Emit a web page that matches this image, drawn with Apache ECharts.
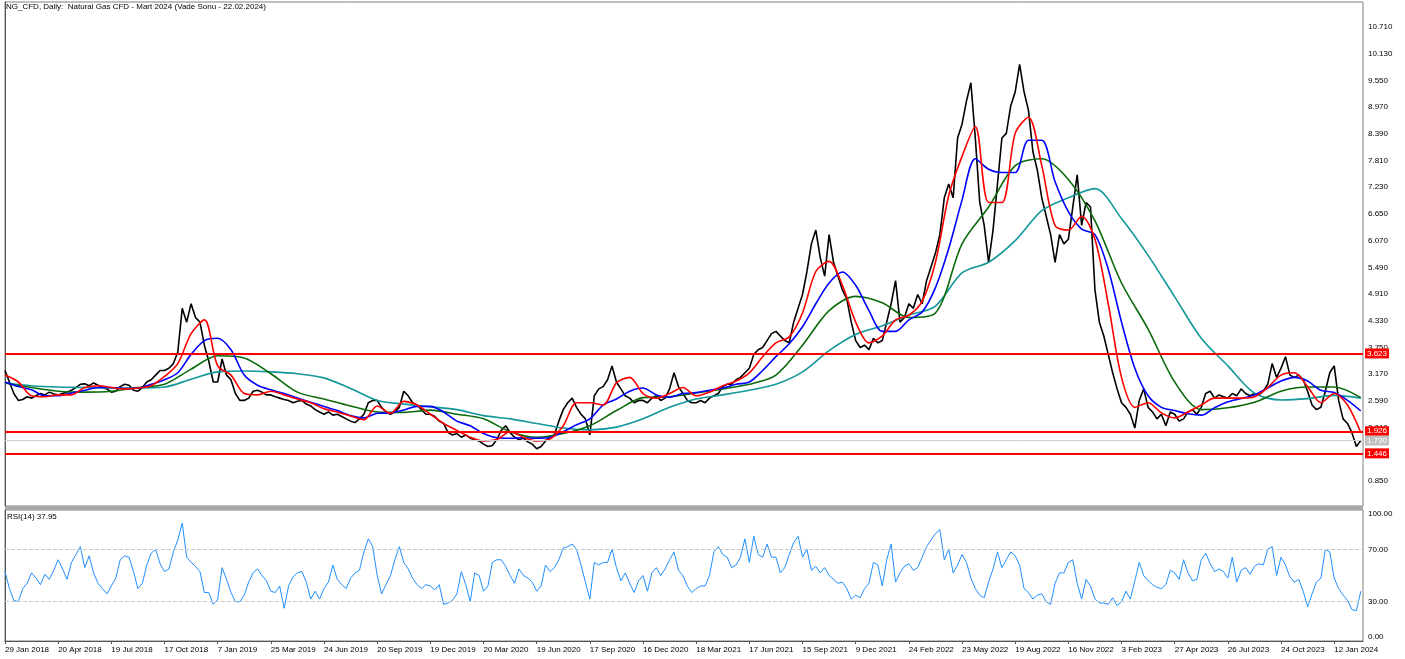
<!DOCTYPE html>
<html>
<head>
<meta charset="utf-8">
<title>NG_CFD Daily</title>
<script src="https://cdn.jsdelivr.net/npm/echarts@6/dist/echarts.min.js"></script>
<style>
  html, body { margin: 0; padding: 0; background: #fff; }
  #chart { width: 1405px; height: 659px; }
</style>
</head>
<body>
<div id="chart"></div>
<script>
// one sample ~ one week, a date label every 12 samples
const tickStep = 12;
const tickLabels = ["29 Jan 2018", "20 Apr 2018", "19 Jul 2018", "17 Oct 2018", "7 Jan 2019", "25 Mar 2019",
  "24 Jun 2019", "20 Sep 2019", "19 Dec 2019", "20 Mar 2020", "19 Jun 2020", "17 Sep 2020", "16 Dec 2020",
  "18 Mar 2021", "17 Jun 2021", "15 Sep 2021", "9 Dec 2021", "24 Feb 2022", "23 May 2022", "19 Aug 2022",
  "16 Nov 2022", "3 Feb 2023", "27 Apr 2023", "26 Jul 2023", "24 Oct 2023", "12 Jan 2024"];
const priceTicks = [0.85, 1.43, 2.01, 2.59, 3.17, 3.75, 4.33, 4.91, 5.49, 6.07, 6.65, 7.23, 7.81, 8.39, 8.97, 9.55, 10.13, 10.71];
const rsiTicks = [0, 30, 70, 100];
const redLevels = [3.623, 1.926, 1.446];
const lastPrice = 1.730;
const rsiLast = 37.95;

const close = [
  3.25, 3.0, 2.75, 2.6, 2.62, 2.68, 2.65, 2.7, 2.75, 2.72, 2.78, 2.74,
  2.72, 2.75, 2.78, 2.82, 2.88, 2.95, 2.96, 2.92, 2.98, 2.93, 2.88, 2.85,
  2.78, 2.8, 2.9, 2.95, 2.93, 2.82, 2.8, 2.88, 3.0, 3.05, 3.15, 3.25,
  3.25, 3.3, 3.4, 3.65, 4.6, 4.3, 4.7, 4.4, 4.3, 3.8, 3.45, 3.0,
  3.0, 3.5, 3.15, 3.05, 2.75, 2.6, 2.6, 2.65, 2.8, 2.82, 2.78, 2.72,
  2.72, 2.68, 2.65, 2.62, 2.6, 2.55, 2.58, 2.6, 2.52, 2.48, 2.4, 2.35,
  2.3, 2.35, 2.28, 2.3, 2.25, 2.2, 2.15, 2.12, 2.2, 2.3, 2.55, 2.6,
  2.6, 2.45, 2.35, 2.3, 2.35, 2.45, 2.8, 2.7, 2.55, 2.5, 2.4, 2.3,
  2.3, 2.25, 2.15, 2.1, 1.9, 1.85, 1.88, 1.8, 1.85, 1.78, 1.75, 1.72,
  1.65, 1.6, 1.62, 1.75, 1.95, 2.05, 1.9, 1.8, 1.75, 1.78, 1.7, 1.65,
  1.55, 1.6, 1.72, 1.8, 1.85, 2.15, 2.4, 2.55, 2.65, 2.45, 2.3, 2.2,
  1.85, 2.7, 2.85, 2.9, 3.05, 3.35, 3.0, 2.85, 2.7, 2.65, 2.55, 2.6,
  2.6, 2.55, 2.65, 2.7, 2.6, 2.65, 2.85, 3.2, 2.9, 2.75, 2.6, 2.55,
  2.55, 2.6, 2.55, 2.65, 2.7, 2.75, 2.9, 2.95, 2.95, 3.05, 3.1, 3.2,
  3.3, 3.6, 3.7, 3.75, 3.9, 4.05, 4.1, 4.0, 3.9, 3.85, 4.3, 4.6,
  4.9, 5.4, 6.0, 6.3, 5.7, 5.3, 6.2, 5.6, 5.3, 5.0, 4.8, 4.3,
  3.9, 3.75, 3.8, 3.7, 3.95, 3.85, 3.9, 4.3, 4.7, 5.2, 4.3, 4.4,
  4.7, 4.6, 4.9, 4.7, 5.2, 5.5, 5.8, 6.2, 7.0, 7.3, 7.0, 8.3,
  8.6, 9.1, 9.5, 8.3, 6.9, 6.4, 5.6, 6.3, 7.3, 8.3, 8.4, 9.0,
  9.3, 9.9, 9.3, 8.9, 8.0, 7.6, 7.0, 6.6, 6.2, 5.6, 6.2, 6.0,
  6.1, 6.8, 7.5, 6.4, 6.9, 6.8, 5.0, 4.3, 4.0, 3.6, 3.2, 2.85,
  2.55, 2.45, 2.3, 2.0, 2.6, 2.85, 2.45, 2.35, 2.2, 2.3, 2.05, 2.35,
  2.3, 2.15, 2.2, 2.35, 2.4, 2.3, 2.45, 2.75, 2.8, 2.65, 2.72, 2.68,
  2.65, 2.75, 2.7, 2.85, 2.75, 2.7, 2.75, 2.72, 2.8, 2.95, 3.4, 3.1,
  3.3, 3.55, 3.15, 3.1, 3.15, 3.05, 2.8, 2.5, 2.4, 2.45, 2.8, 3.2,
  3.35, 2.6, 2.2, 2.1, 1.9, 1.6, 1.73
];

// moving averages read every 3 samples (red, blue) and every 6 samples (green, teal)
const maRed = [
  3.15, 3.0, 2.7, 2.68, 2.72, 2.72, 2.88, 2.92, 2.88, 2.85, 2.87, 2.92, 3.12, 3.4, 4.05, 4.35, 3.35, 3.15,
  2.75, 2.72, 2.8, 2.72, 2.63, 2.55, 2.42, 2.35, 2.26, 2.18, 2.48, 2.32, 2.58, 2.5, 2.3, 2.1, 1.95, 1.8,
  1.72, 1.75, 1.92, 1.8, 1.72, 1.76, 2.05, 2.55, 2.55, 2.5, 2.98, 3.1, 2.75, 2.65, 2.75, 2.88, 2.7, 2.78,
  2.92, 3.02, 3.2, 3.55, 3.85, 3.98, 4.5, 5.4, 5.62, 5.1, 4.3, 3.85, 4.0, 4.35, 4.45, 4.75, 5.6, 7.05,
  7.9, 8.55, 6.9, 6.9, 8.4, 8.75, 7.7, 6.4, 6.3, 6.6, 6.1, 4.7, 3.1, 2.45, 2.55, 2.33, 2.22, 2.35,
  2.5, 2.65, 2.65, 2.65, 2.68, 2.88, 3.15, 3.2, 2.9, 2.55, 2.75, 2.5, 1.9
];
const maBlue = [
  3.0, 2.9, 2.83, 2.7, 2.7, 2.76, 2.82, 2.88, 2.88, 2.86, 2.87, 2.95, 3.05, 3.2, 3.6, 3.9, 3.95, 3.7,
  3.15, 2.93, 2.83, 2.75, 2.65, 2.56, 2.47, 2.38, 2.27, 2.22, 2.32, 2.33, 2.39, 2.47, 2.47, 2.35, 2.15, 2.05,
  1.88, 1.79, 1.78, 1.79, 1.78, 1.8, 1.92, 2.07, 2.2, 2.5, 2.63, 2.8, 2.87, 2.72, 2.67, 2.75, 2.77, 2.82,
  2.87, 2.95, 3.0, 3.25, 3.55, 3.83, 4.2, 4.7, 5.15, 5.39, 5.1, 4.55, 4.1, 4.1, 4.35, 4.52, 5.05, 5.9,
  6.95, 7.85, 7.62, 7.55, 7.55, 8.25, 8.25, 7.35, 6.7, 6.32, 6.2, 5.45, 4.3, 3.3, 2.7, 2.45, 2.38, 2.31,
  2.28, 2.44, 2.57, 2.64, 2.72, 2.87, 3.02, 3.1, 3.02, 2.82, 2.77, 2.6, 2.37
];
const maGreen = [
  2.98, 2.88, 2.8, 2.78, 2.8, 2.88, 2.95, 3.28, 3.57, 3.52, 3.18, 2.78, 2.63, 2.48, 2.35, 2.34, 2.39, 2.3,
  2.2, 1.92, 1.8, 1.88, 2.05, 2.38, 2.66, 2.68, 2.76, 2.85, 2.95, 3.15, 3.8, 4.55, 4.86, 4.72, 4.4, 4.5,
  6.0, 6.8, 7.7, 7.85, 7.4, 6.5, 5.15, 4.15, 3.0, 2.4, 2.44, 2.56, 2.8, 2.89, 2.89, 2.66
];
const maTeal = [
  2.98, 2.92, 2.89, 2.88, 2.87, 2.87, 2.89, 3.06, 3.22, 3.24, 3.22, 3.18, 3.09, 2.86, 2.6, 2.52, 2.46, 2.4,
  2.27, 2.2, 2.1, 2.0, 1.96, 2.02, 2.2, 2.45, 2.63, 2.72, 2.82, 2.95, 3.22, 3.68, 4.03, 4.22, 4.45, 4.65,
  5.37, 5.6, 6.07, 6.72, 7.0, 7.2, 6.55, 5.75, 4.85, 3.95, 3.35, 2.76, 2.61, 2.64, 2.71, 2.65
];

const rsi = [
  53, 40, 31, 30, 40, 44, 52, 48, 43, 51, 47, 54, 62, 55, 47, 60, 66, 72, 56, 65,
  52, 44, 40, 36, 42, 48, 62, 65, 64, 53, 40, 44, 58, 67, 70, 59, 53, 55, 68, 77,
  90, 64, 60, 57, 53, 37, 37, 28, 32, 56, 47, 37, 30, 30, 35, 45, 52, 55, 50, 46,
  38, 37, 42, 25, 42, 49, 52, 53, 45, 32, 38, 32, 40, 45, 58, 47, 43, 40, 48, 52,
  54, 68, 78, 72, 50, 36, 43, 50, 62, 72, 60, 55, 48, 43, 40, 43, 42, 39, 43, 28,
  29, 31, 36, 53, 43, 30, 52, 50, 38, 42, 60, 62, 62, 57, 50, 44, 55, 50, 48, 45,
  38, 42, 58, 53, 56, 62, 71, 72, 74, 70, 58, 45, 32, 60, 58, 60, 60, 70, 56, 46,
  52, 44, 37, 46, 50, 38, 52, 56, 50, 55, 62, 68, 54, 50, 42, 37, 40, 42, 42, 50,
  68, 72, 66, 64, 56, 58, 64, 78, 60, 80, 66, 64, 74, 64, 64, 52, 56, 66, 75, 80,
  64, 70, 54, 57, 52, 56, 50, 47, 44, 45, 40, 32, 35, 33, 40, 44, 60, 58, 42, 62,
  74, 45, 52, 57, 59, 54, 56, 64, 72, 77, 82, 85, 62, 70, 52, 58, 66, 60, 48, 40,
  35, 33, 45, 55, 68, 56, 62, 68, 65, 58, 40, 37, 32, 35, 36, 30, 28, 44, 52, 52,
  60, 62, 44, 32, 47, 42, 32, 29, 29, 28, 33, 27, 30, 38, 32, 46, 60, 50, 46, 43,
  41, 40, 43, 54, 52, 47, 62, 52, 46, 47, 62, 67, 59, 53, 55, 53, 48, 64, 45, 54,
  56, 51, 57, 59, 58, 70, 72, 50, 64, 58, 49, 45, 47, 38, 26, 36, 45, 48, 70, 68,
  48, 40, 35, 31, 24, 23, 38
];

function toPoints(arr, step) {
  return arr.map(function (v, i) { return [i * step, v]; });
}

const font = "'Liberation Sans', Arial, sans-serif";
const xMax = 306.5;
const tickValues = tickLabels.map(function (t, i) { return i * tickStep; });

function levelLine(v, bg, lineColor, width) {
  return {
    yAxis: v,
    lineStyle: { color: lineColor, width: width, type: 'solid' },
    label: {
      show: true, position: 'end', distance: 2,
      formatter: v.toFixed(3), color: '#fff', backgroundColor: bg,
      fontSize: 8, fontFamily: font, padding: [1, 2, 1, 2]
    }
  };
}

const chart = echarts.init(document.getElementById('chart'));
const option = {
  animation: false,
  backgroundColor: '#fff',
  title: [
    {
      text: 'NG_CFD, Daily:  Natural Gas CFD - Mart 2024 (Vade Sonu - 22.02.2024)',
      left: 6, top: 3, padding: 0,
      textStyle: { fontSize: 8, fontWeight: 'normal', color: '#000', fontFamily: font }
    },
    {
      text: 'RSI(14) ' + rsiLast.toFixed(2),
      left: 7, top: 513, padding: 0,
      textStyle: { fontSize: 8, fontWeight: 'normal', color: '#000', fontFamily: font }
    }
  ],
  grid: [
    { left: 5, top: 2, width: 1358, height: 504, show: true, borderColor: '#808080', borderWidth: 1 },
    { left: 5, top: 510, width: 1358, height: 131, show: true, borderColor: '#808080', borderWidth: 1 }
  ],
  graphic: [
    { type: 'rect', shape: { x: 5, y: 506, width: 1358, height: 4 }, style: { fill: '#a8a8a8' }, silent: true }
  ],
  xAxis: [
    { gridIndex: 0, type: 'value', min: 0, max: xMax, show: false },
    {
      gridIndex: 1, type: 'value', min: 0, max: xMax,
      axisLine: { show: true, lineStyle: { color: '#555', width: 1 } },
      axisTick: { show: true, customValues: tickValues, length: 3, lineStyle: { color: '#555' } },
      axisLabel: {
        customValues: tickValues, align: 'left', margin: 5,
        formatter: function (v) { return tickLabels[Math.round(v / tickStep)]; },
        fontSize: 8, color: '#000', fontFamily: font
      },
      splitLine: { show: false }
    }
  ],
  yAxis: [
    {
      gridIndex: 0, type: 'value', position: 'right', min: 0.307, max: 11.253,
      axisLine: { show: true, lineStyle: { color: '#555' } },
      axisTick: { show: false },
      axisLabel: {
        customValues: priceTicks, margin: 5,
        formatter: function (v) { return v.toFixed(3); },
        fontSize: 8, color: '#000', fontFamily: font
      },
      splitLine: { show: false }
    },
    {
      gridIndex: 1, type: 'value', position: 'right', min: 0, max: 100,
      axisLine: { show: true, lineStyle: { color: '#555' } },
      axisTick: { show: false },
      axisLabel: {
        customValues: rsiTicks, margin: 5,
        verticalAlignMinLabel: 'bottom', verticalAlignMaxLabel: 'top',
        formatter: function (v) { return v.toFixed(2); },
        fontSize: 8, color: '#000', fontFamily: font
      },
      splitLine: { show: false }
    }
  ],
  series: [
    {
      name: 'NG_CFD', type: 'line', xAxisIndex: 0, yAxisIndex: 0,
      data: toPoints(close, 1), symbol: 'none',
      lineStyle: { color: '#000', width: 1.6 },
      markLine: {
        silent: true, symbol: 'none',
        data: [
          levelLine(redLevels[0], '#ff0000', '#ff0000', 2),
          levelLine(redLevels[1], '#ff0000', '#ff0000', 2),
          levelLine(lastPrice, '#c0c0c0', '#cfcfcf', 1),
          levelLine(redLevels[2], '#ff0000', '#ff0000', 2)
        ]
      }
    },
    {
      name: 'MA teal', type: 'line', xAxisIndex: 0, yAxisIndex: 0,
      data: toPoints(maTeal, 6), symbol: 'none', smooth: 0.3,
      lineStyle: { color: '#12979a', width: 1.6 }
    },
    {
      name: 'MA green', type: 'line', xAxisIndex: 0, yAxisIndex: 0,
      data: toPoints(maGreen, 6), symbol: 'none', smooth: 0.3,
      lineStyle: { color: '#0a6a0a', width: 1.6 }
    },
    {
      name: 'MA blue', type: 'line', xAxisIndex: 0, yAxisIndex: 0,
      data: toPoints(maBlue, 3), symbol: 'none', smooth: 0.3,
      lineStyle: { color: '#0000ff', width: 1.6 }
    },
    {
      name: 'MA red', type: 'line', xAxisIndex: 0, yAxisIndex: 0,
      data: toPoints(maRed, 3), symbol: 'none', smooth: 0.3,
      lineStyle: { color: '#ff0000', width: 1.6 }
    },
    {
      name: 'RSI(14)', type: 'line', xAxisIndex: 1, yAxisIndex: 1,
      data: toPoints(rsi, 1), symbol: 'none',
      lineStyle: { color: '#1e90ff', width: 1 },
      markLine: {
        silent: true, symbol: 'none', label: { show: false },
        lineStyle: { color: '#c8c8c8', type: 'dashed', width: 1 },
        data: [{ yAxis: 30 }, { yAxis: 70 }]
      }
    }
  ]
};
chart.setOption(option);
</script>
</body>
</html>
